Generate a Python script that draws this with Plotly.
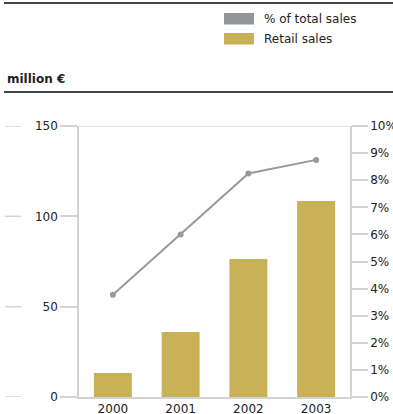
import plotly.graph_objects as go

# Data
years = ["2000", "2001", "2002", "2003"]
retail_sales = [13.3, 36, 76.4, 108.5]          # million €
share_of_total = [3.77, 6.0, 8.25, 8.75]         # % of total sales
left_ticks = [0, 50, 100, 150]
right_ticks = list(range(0, 11))
right_labels = [f"{v}%" for v in right_ticks]

GOLD = "#c9b158"
GREY_LINE = "#999999"
GREY_SWATCH = "#939598"
GRID = "#d3d3d3"
RULE = "#444444"
TEXT = "#222222"
FONT = "DejaVu Sans"

W, H = 393, 414
L, R, T, B = 79, 43, 126, 17
PW, PH = W - L - R, H - T - B


def px(x):
    return (x - L) / PW


def py(y):
    return (H - B - y) / PH


fig = go.Figure()
fig.add_trace(go.Bar(x=years, y=retail_sales, marker_color=GOLD,
                     marker_line_width=0, yaxis="y", showlegend=False))
fig.add_trace(go.Scatter(x=years, y=share_of_total, mode="lines+markers",
                         line=dict(color=GREY_LINE, width=2),
                         marker=dict(color=GREY_LINE, size=6),
                         yaxis="y2", showlegend=False))

shapes = []
# horizontal rules at top
for yy in (3, 92):
    shapes.append(dict(type="line", xref="paper", yref="paper",
                       x0=px(4), x1=px(393), y0=py(yy), y1=py(yy),
                       line=dict(color=RULE, width=2)))
# top frame line at 150
shapes.append(dict(type="line", xref="paper", yref="y", x0=0, x1=1,
                   y0=150, y1=150, line=dict(color=GRID, width=1.5)))
# short dashes at the far left of each value level
for v in left_ticks:
    shapes.append(dict(type="line", xref="paper", yref="y",
                       x0=px(5), x1=px(21), y0=v, y1=v,
                       line=dict(color=GRID, width=1.5)))
# legend swatches
shapes.append(dict(type="rect", xref="paper", yref="paper",
                   x0=px(224), x1=px(254), y0=py(24.5), y1=py(13),
                   fillcolor=GREY_SWATCH, line_width=0))
shapes.append(dict(type="rect", xref="paper", yref="paper",
                   x0=px(224), x1=px(254), y0=py(44.5), y1=py(33),
                   fillcolor=GOLD, line_width=0))

annotations = [
    dict(text="% of total sales", xref="paper", yref="paper",
         x=px(262), y=py(19), xanchor="left", yanchor="middle",
         showarrow=False, font=dict(family=FONT, size=12, color=TEXT)),
    dict(text="Retail sales", xref="paper", yref="paper",
         x=px(262), y=py(39), xanchor="left", yanchor="middle",
         showarrow=False, font=dict(family=FONT, size=12, color=TEXT)),
    dict(text="<b>million €</b>", xref="paper", yref="paper",
         x=px(5), y=py(79), xanchor="left", yanchor="middle",
         showarrow=False, font=dict(family=FONT, size=12, color=TEXT)),
]

fig.update_layout(
    width=W, height=H,
    margin=dict(l=L, r=R, t=T, b=B, pad=0, autoexpand=False),
    paper_bgcolor="white", plot_bgcolor="white",
    font=dict(family=FONT, size=12, color=TEXT),
    bargap=0.44,
    xaxis=dict(showgrid=False, showline=True, linecolor=GRID, linewidth=1.5,
               ticks="", tickfont=dict(size=12), automargin=False),
    yaxis=dict(range=[0, 150], tickvals=left_ticks, showgrid=False,
               zeroline=False, showline=True, linecolor=GRID, linewidth=1.5,
               ticks="outside", ticklen=17, tickcolor=GRID, tickwidth=1.5,
               automargin=False),
    yaxis2=dict(range=[0, 10], tickvals=right_ticks, ticktext=right_labels,
                overlaying="y", side="right", showgrid=False, zeroline=False,
                showline=True, linecolor=GRID, linewidth=1.5,
                ticks="outside", ticklen=16, tickcolor=GRID, tickwidth=1.5,
                automargin=False),
    shapes=shapes,
    annotations=annotations,
)

fig.write_html("out.html")
